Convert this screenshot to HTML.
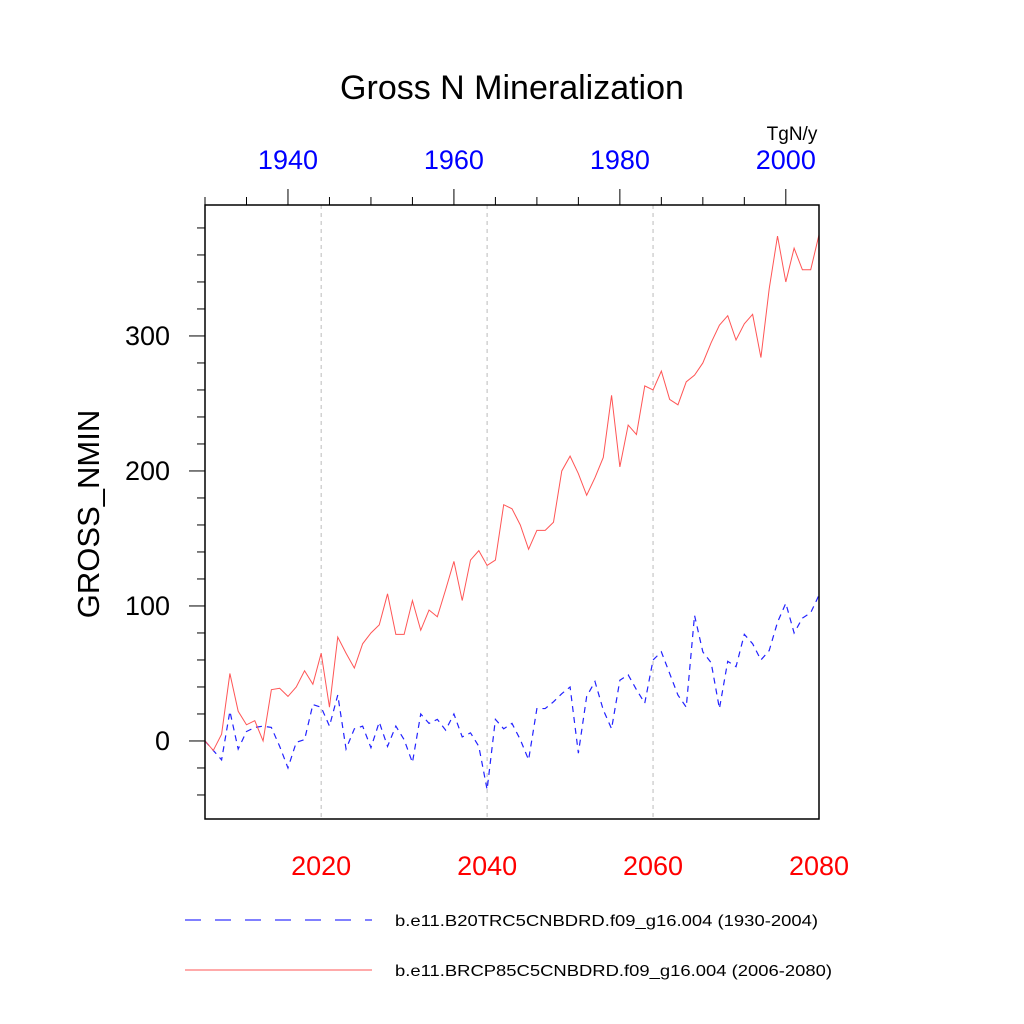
<!DOCTYPE html>
<html><head><meta charset="utf-8"><style>
body{margin:0;background:#fff}
svg{display:block;font-family:"Liberation Sans",sans-serif}
</style></head><body>
<svg id="c" width="1024" height="1024" viewBox="0 0 1024 1024">
<text x="512" y="99" font-size="34" text-anchor="middle">Gross N Mineralization</text>
<text x="792" y="140" font-size="19" text-anchor="middle">TgN/y</text>
<text transform="translate(99,514) rotate(-90)" font-size="31" text-anchor="middle">GROSS_NMIN</text>
<g id="grid"></g>
<g id="series"></g>
<g id="axes"></g>
<rect x="205" y="205" width="614" height="614" fill="none" stroke="#000" stroke-width="1.5"/>
<line x1="185" y1="920" x2="372" y2="920" stroke="#00f" stroke-dasharray="16,14"/>
<text x="395" y="926" font-size="16" textLength="423" lengthAdjust="spacingAndGlyphs">b.e11.B20TRC5CNBDRD.f09_g16.004 (1930-2004)</text>
<line x1="185" y1="970" x2="372" y2="970" stroke="#f55" stroke-width="1"/>
<text x="395" y="976" font-size="16" textLength="437" lengthAdjust="spacingAndGlyphs">b.e11.BRCP85C5CNBDRD.f09_g16.004 (2006-2080)</text>
</svg>
<script>
const futureStart = 2006;
const histStart = 1930;
const futureValues = [0,-7,5,50,22,12,15,0,38,39,33,40,52,42,65,25,77,65,54,72,80,86,109,79,79,104,82,97,92,112,133,104,134,141,130,134,175,172,160,142,156,156,162,200,211,198,182,195,210,256,203,234,227,263,260,274,253,249,266,271,280,295,308,315,297,309,316,284,335,374,340,365,349,349,375];
const histValues = [0,-7,-14,22,-6,7,10,11,10,-4,-20,-1,1,27,25,11,34,-6,9,11,-5,14,-4,11,1,-16,20,13,16,8,20,3,6,-4,-36,16,9,13,1,-14,24,24,29,35,40,-9,33,44,23,9,45,49,38,28,60,66,50,34,25,93,66,58,24,59,55,79,72,60,67,88,102,80,91,95,108];
const bottomTicks = [2020,2040,2060,2080];
const topTicks = [1940,1960,1980,2000];
const yTicks = [0,100,200,300];

const NS="http://www.w3.org/2000/svg";
const X0=205,X1=819,Y0=819,Y1=205;
const yMin=-57.8,yMax=397;
const xF=y=>X0+(y-2006)/(2080-2006)*(X1-X0);
const xH=y=>X0+(y-1930)/(2004-1930)*(X1-X0);
const yS=v=>Y0-(v-yMin)/(yMax-yMin)*(Y0-Y1);
function mk(tag,attrs,parent){const e=document.createElementNS(NS,tag);for(const k in attrs)e.setAttribute(k,attrs[k]);parent.appendChild(e);return e;}
const grid=document.getElementById('grid'),axes=document.getElementById('axes'),series=document.getElementById('series');
bottomTicks.forEach(t=>{
  if(t<2080){const l=mk('line',{x1:xF(t),x2:xF(t),y1:Y1,y2:Y0,stroke:'#bbb','stroke-dasharray':'4,4'},grid);
  
  }
  const tx=mk('text',{x:xF(t),y:875,'font-size':27,fill:'#f00','text-anchor':'middle'},axes);tx.textContent=t;
  
  
});
for(let y=1930;y<=2004;y+=5){
  const major=topTicks.includes(y);
  const l=mk('line',{x1:xH(y),x2:xH(y),y1:Y1,y2:Y1-(major?16:8),stroke:'#000'},axes);
  
  
}
topTicks.forEach(t=>{
  const tx=mk('text',{x:xH(t),y:169,'font-size':27,fill:'#00f','text-anchor':'middle'},axes);tx.textContent=t;
  
  
});
for(let v=-40;v<=380;v+=20){
  const major=yTicks.includes(v);
  const l=mk('line',{x1:X0,x2:X0-(major?16:8),y1:yS(v),y2:yS(v),stroke:'#000'},axes);
  
  
}
yTicks.forEach(v=>{
  const tx=mk('text',{x:170,y:yS(v)+9,'font-size':27,'text-anchor':'end'},axes);tx.textContent=v;
  
  
});
const hp=mk('polyline',{points:histValues.map((v,i)=>xH(histStart+i)+','+yS(v)).join(' '),fill:'none',stroke:'#22f','stroke-width':1.2,'stroke-dasharray':'6,5'},series);


const fp=mk('polyline',{points:futureValues.map((v,i)=>xF(futureStart+i)+','+yS(v)).join(' '),fill:'none',stroke:'#f55','stroke-width':1},series);


</script>
</body></html>
